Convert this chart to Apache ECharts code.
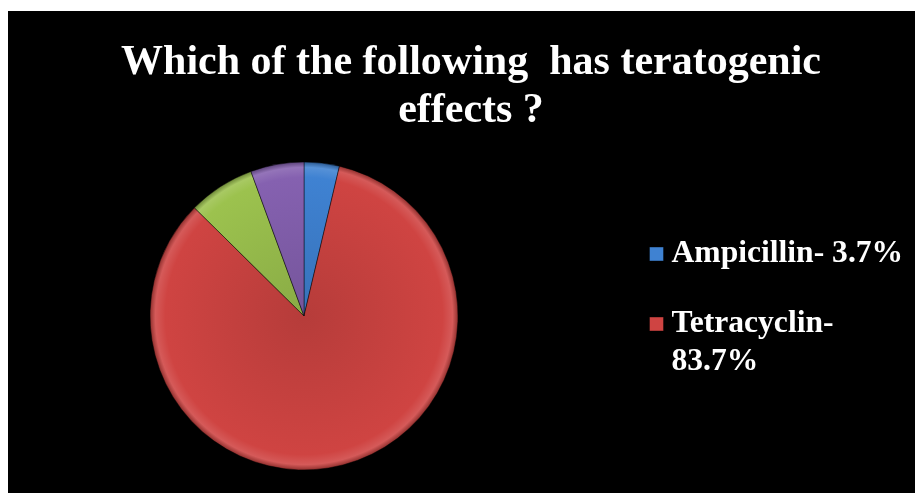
<!DOCTYPE html>
<html>
<head>
<meta charset="utf-8">
<script src="https://cdn.jsdelivr.net/npm/echarts@6/dist/echarts.min.js"></script>
<style>
html,body{margin:0;padding:0;background:#ffffff;width:915px;height:493px;overflow:hidden;}
#chart{position:absolute;left:8px;top:11px;width:907px;height:482px;}
</style>
</head>
<body>
<div id="chart"></div>
<script>
// Data
var categories = ["Ampicillin", "Tetracyclin", "Slice 3", "Slice 4"];
var values = [3.7, 83.7, 7.0, 5.6];
var colors = ["#3f82d2", "#cf4442", "#9cc24e", "#8561b0"];
var legendNames = ["Ampicillin", "Tetracyclin"];
var legendLines = [["Ampicillin- 3.7%"], ["Tetracyclin-", "83.7%"]];
var titleText = "Which of the following  has teratogenic\neffects ?";

var cx = 296, cy = 305, R = 154;

function shade(hex, f) {
  var n = parseInt(hex.slice(1), 16);
  var r = (n >> 16) & 255, g = (n >> 8) & 255, b = n & 255;
  function c(v){ v = f > 0 ? v + (255 - v) * f : v * (1 + f); return Math.max(0, Math.min(255, Math.round(v))); }
  return "rgb(" + c(r) + "," + c(g) + "," + c(b) + ")";
}

var pieData = categories.map(function (name, i) {
  return {
    name: name,
    value: values[i],
    itemStyle: {
      color: {
        type: "radial", x: cx, y: cy, r: R, global: true,
        colorStops: [
          { offset: 0, color: shade(colors[i], -0.12) },
          { offset: 0.9, color: colors[i] },
          { offset: 0.965, color: shade(colors[i], 0.12) },
          { offset: 1, color: shade(colors[i], -0.3) }
        ]
      }
    }
  };
});

var chart = echarts.init(document.getElementById("chart"), null, { renderer: "canvas" });
chart.setOption({
  backgroundColor: "#000000",
  animation: false,
  color: colors,
  title: {
    text: titleText,
    left: 458,
    textAlign: "center",
    top: 23,
    textStyle: {
      color: "#ffffff",
      fontFamily: "Liberation Serif",
      fontWeight: "bold",
      fontSize: 42,
      lineHeight: 48
    }
  },
  legend: {
    orient: "vertical",
    left: 636,
    top: 219,
    itemWidth: 14,
    itemHeight: 14,
    itemGap: -6,
    icon: "rect",
    selectedMode: false,
    data: legendNames.map(function (n) {
      return { name: n, itemStyle: { color: colors[categories.indexOf(n)], borderColor: "rgba(0,0,0,0.4)", borderWidth: 1 } };
    }),
    formatter: function (name) {
      var lines = legendLines[legendNames.indexOf(name)];
      var out = lines.map(function (l) { return "{t|" + l + "}"; });
      // keep the icon aligned with the first line of a wrapped label
      if (lines.length > 1) { out.unshift("{t| }"); }
      return out.join("\n");
    },
    textStyle: {
      color: "#ffffff",
      fontFamily: "Liberation Serif",
      fontWeight: "bold",
      fontSize: 31.6,
      lineHeight: 38,
      rich: {
        t: {
          color: "#ffffff",
          fontFamily: "Liberation Serif",
          fontWeight: "bold",
          fontSize: 31.6,
          lineHeight: 38,
          padding: [0, 0, 0, 3]
        }
      }
    }
  },
  series: [{
    type: "pie",
    center: [cx, cy],
    radius: R,
    startAngle: 90,
    clockwise: true,
    label: { show: false },
    labelLine: { show: false },
    emphasis: { disabled: true },
    itemStyle: { borderColor: "rgba(0,0,0,0.45)", borderWidth: 1 },
    data: pieData
  }]
});
</script>
</body>
</html>
